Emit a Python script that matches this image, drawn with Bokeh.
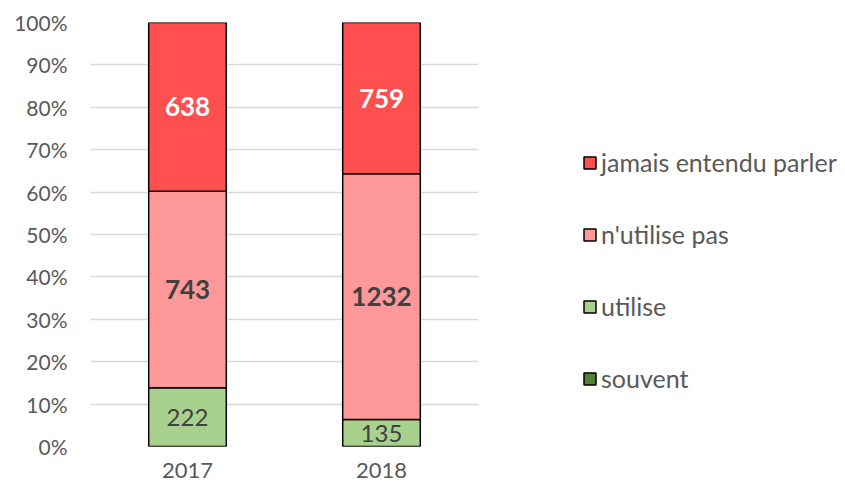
from bokeh.plotting import figure
from bokeh.models import ColumnDataSource, FixedTicker, NumeralTickFormatter, Legend, LegendItem
from bokeh.core.properties import value
from bokeh.embed import file_html
from bokeh.resources import INLINE

years = ["2017", "2018"]
souvent = [0, 0]
utilise = [222, 135]
nutilise = [743, 1232]
jamais = [638, 759]

series = ["souvent", "utilise", "nutilise", "jamais"]
labels = {"souvent": "souvent", "utilise": "utilise", "nutilise": "n'utilise pas", "jamais": "jamais entendu parler"}
colors = {"souvent": "#548235", "utilise": "#A9D18E", "nutilise": "#FF9999", "jamais": "#FF4F4F"}
raw = {"souvent": souvent, "utilise": utilise, "nutilise": nutilise, "jamais": jamais}

totals = [sum(raw[s][i] for s in series) for i in range(len(years))]
data = {"years": years}
for s in series:
    data[s] = [raw[s][i] / totals[i] for i in range(len(years))]
source = ColumnDataSource(data)

FONT = "Lato"
p = figure(x_range=years, y_range=(0, 1), frame_width=388, frame_height=424,
           output_backend="svg", toolbar_location=None,
           min_border_left=90, min_border_right=0, min_border_top=22, min_border_bottom=37)
p.outline_line_color = None
p.background_fill_color = "white"

rs = p.vbar_stack(series, x="years", width=0.4, source=source,
                  fill_color=[colors[s] for s in series], line_color="black", line_width=1.5)

# data labels
lab_x, lab_y, lab_t, lab_c, lab_w, lab_s = [], [], [], [], [], []
for i, yr in enumerate(years):
    base = 0.0
    for s in series:
        h = data[s][i]
        if raw[s][i] > 0:
            lab_x.append(yr)
            lab_y.append(base + h / 2)
            lab_t.append(str(raw[s][i]))
            lab_c.append("white" if s == "jamais" else "#404040")
            lab_w.append("normal" if s == "utilise" else "bold")
            lab_s.append("24px" if s == "utilise" else "26px")
        base += h
ls = ColumnDataSource(dict(x=lab_x, y=lab_y, t=lab_t, c=lab_c, w=lab_w, s=lab_s))
p.text(x="x", y="y", text="t", source=ls, text_color="c", text_font_style="w",
       text_align="center", text_baseline="middle", text_font_size="s",
       text_font=value(FONT))

p.yaxis.ticker = FixedTicker(ticks=[i / 10 for i in range(11)])
p.yaxis.formatter = NumeralTickFormatter(format="0%")
for ax in (p.xaxis, p.yaxis):
    ax.axis_line_color = None
    ax.major_tick_line_color = None
    ax.minor_tick_line_color = None
    ax.major_label_text_font = FONT
    ax.major_label_text_font_size = "21px"
    ax.major_label_text_color = "#595959"
p.xaxis.major_label_text_font_size = "22px"
p.yaxis.major_label_standoff = 17
p.xaxis.major_label_standoff = 10
p.xgrid.grid_line_color = None
p.ygrid.grid_line_color = "#D9D9D9"
p.ygrid.grid_line_width = 1.5
p.x_range.range_padding = 0.0

items = [LegendItem(label=labels[s], renderers=[r]) for s, r in zip(series, rs)]
items.reverse()
legend = Legend(items=items, location=(104, 53), orientation="vertical",
                glyph_width=15, glyph_height=15, spacing=42, padding=0, margin=0,
                label_text_font=FONT, label_text_font_size="25px", label_text_color="#595959",
                label_standoff=4, border_line_color=None, background_fill_alpha=0)
p.add_layout(legend, "right")

open("out.html", "w").write(file_html(p, INLINE))
